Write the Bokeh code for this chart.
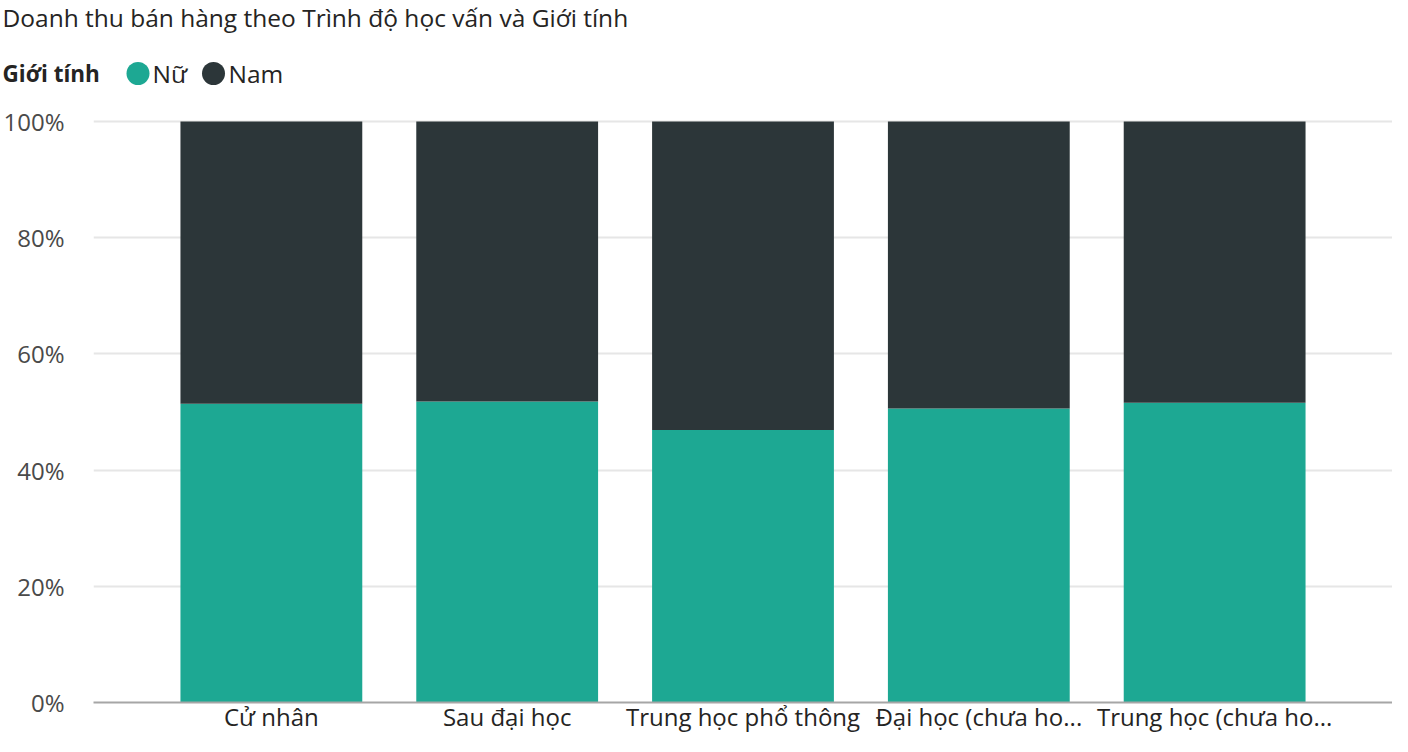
from bokeh.plotting import figure
from bokeh.layouts import column
from bokeh.models import FactorRange, Range1d, FixedTicker, NumeralTickFormatter, ColumnDataSource
from bokeh.core.properties import value
from bokeh.embed import file_html
from bokeh.resources import INLINE

# ---- data ----
title_text = "Doanh thu bán hàng theo Trình độ học vấn và Giới tính"
legend_title = "Giới tính"
categories = ["Cử nhân", "Sau đại học", "Trung học phổ thông",
              "Đại học (chưa ho...", "Trung học (chưa ho..."]
series_names = ["Nữ", "Nam"]
nu_share = [0.514, 0.518, 0.469, 0.506, 0.516]
nam_share = [0.486, 0.482, 0.531, 0.494, 0.484]
y_ticks = [0, 0.2, 0.4, 0.6, 0.8, 1.0]
series_colors = ["#1DA893", "#2C3639"]

FONT = "Open Sans"
TEXT_DARK = "#252423"
TICK_COLOR = "#4A4A4A"

# ---- layout ----
W = 1392
HEADER_H = 100
MAIN_H = 636
BORDER_LEFT = 92
BORDER_BOTTOM = 34
FRAME_H = MAIN_H - BORDER_BOTTOM
PX_PER_UNIT = 581.0                       # pixels for 100 %
y_end = FRAME_H / PX_PER_UNIT
STEP = 236.0                              # px per category
PAD = ((W - BORDER_LEFT) / STEP - len(categories)) / 2

# ---- header: title + legend ----
hdr = figure(width=W, height=HEADER_H, x_range=Range1d(0, W), y_range=Range1d(HEADER_H, 0),
             output_backend="svg", toolbar_location=None,
             x_axis_type=None, y_axis_type=None,
             min_border=0, min_border_left=0, min_border_right=0,
             min_border_top=0, min_border_bottom=0)
hdr.outline_line_color = None
hdr.grid.visible = False
hdr.frame_align = False

hdr.text(x=[2], y=[0], text=[title_text], text_font=value(FONT), text_font_size="24.5px",
         text_color=TEXT_DARK, text_baseline="top", text_align="left")
hdr.text(x=[2], y=[73], text=[legend_title], text_font=value(FONT), text_font_size="22.5px",
         text_font_style="bold", text_color=TEXT_DARK, text_baseline="middle", text_align="left")
hdr.scatter(x=[137.5, 213], y=[73, 73], size=23, color=series_colors, line_color=None)
hdr.text(x=[152, 228], y=[73, 73], text=series_names, text_font=value(FONT),
         text_font_size="24.5px", text_color=TEXT_DARK, text_baseline="middle", text_align="left")

# ---- main chart ----
source = ColumnDataSource(dict(cat=categories, Nữ=nu_share, Nam=nam_share))
x_range = FactorRange(*categories, range_padding=PAD, range_padding_units="absolute")
p = figure(x_range=x_range, y_range=Range1d(0, y_end), width=W, height=MAIN_H,
           output_backend="svg", toolbar_location=None,
           min_border_left=BORDER_LEFT, min_border_right=0,
           min_border_top=0, min_border_bottom=BORDER_BOTTOM)
p.outline_line_color = None
p.frame_align = False

p.vbar_stack(series_names, x="cat", width=0.771, color=series_colors,
             line_color=None, source=source)

p.yaxis.ticker = FixedTicker(ticks=y_ticks)
p.yaxis.formatter = NumeralTickFormatter(format="0%")
p.yaxis.axis_line_color = None
p.yaxis.major_tick_line_color = None
p.yaxis.minor_tick_line_color = None
p.yaxis.major_tick_out = 0
p.yaxis.major_tick_in = 0
p.yaxis.major_label_standoff = 29
p.yaxis.major_label_text_font = FONT
p.yaxis.major_label_text_font_size = "24px"
p.yaxis.major_label_text_color = TICK_COLOR

p.xaxis.axis_line_color = "#A6A6A6"
p.xaxis.axis_line_width = 2
p.xaxis.major_tick_line_color = None
p.xaxis.minor_tick_line_color = None
p.xaxis.major_tick_out = 0
p.xaxis.major_tick_in = 0
p.xaxis.major_label_standoff = -3
p.xaxis.major_label_text_font = FONT
p.xaxis.major_label_text_font_size = "24px"
p.xaxis.major_label_text_color = TEXT_DARK

p.xgrid.grid_line_color = None
p.ygrid.grid_line_color = "#E6E6E6"
p.ygrid.grid_line_width = 2

layout = column(hdr, p, spacing=0)
open("out.html", "w").write(file_html(layout, INLINE))
